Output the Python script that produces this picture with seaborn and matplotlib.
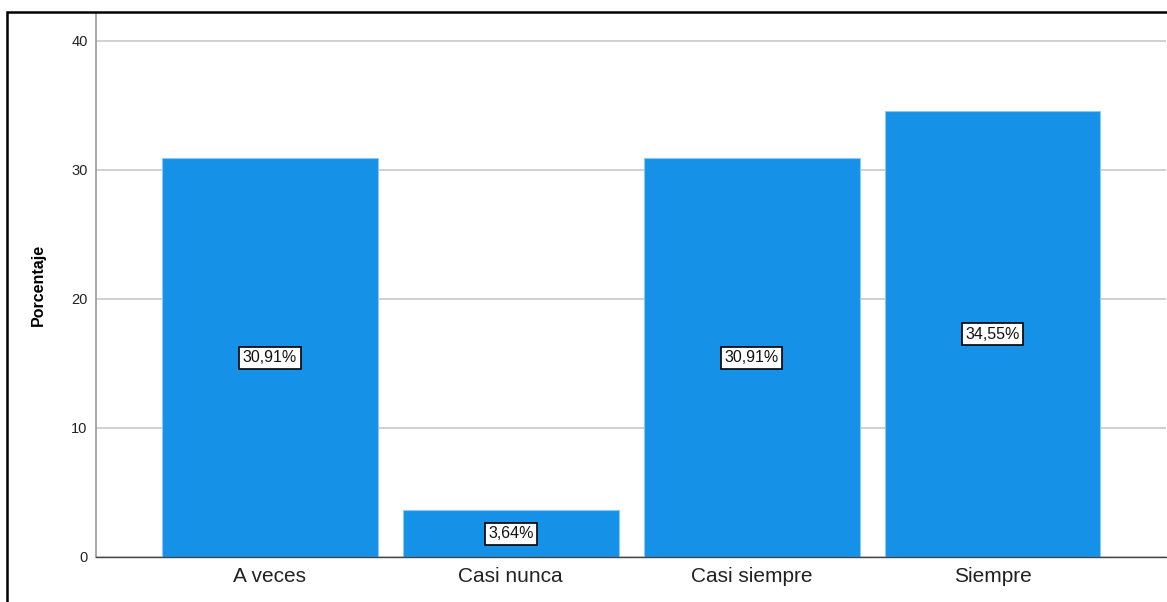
import matplotlib.pyplot as plt
import pandas as pd
import seaborn as sns
from matplotlib.patches import Rectangle

categorias = ["A veces", "Casi nunca", "Casi siempre", "Siempre"]
porcentajes = [30.91, 3.64, 30.91, 34.55]
etiquetas = ["30,91%", "3,64%", "30,91%", "34,55%"]

df = pd.DataFrame({"categoria": categorias, "porcentaje": porcentajes})

sns.set_theme(style="white")
plt.rcParams["font.family"] = ["Liberation Sans", "DejaVu Sans"]

fig = plt.figure(figsize=(11.67, 6.02), dpi=100)
ax = fig.add_axes([96 / 1167, 45 / 602, 1070 / 1167, 544 / 602])

sns.barplot(data=df, x="categoria", y="porcentaje", color="#1591E8",
            saturation=1, width=0.896, edgecolor="#8cc8f2", linewidth=0.8, ax=ax)

ax.set_xlim(-0.722, 3.72)
ax.set_ylim(0, 42.17)
ax.set_yticks([0, 10, 20, 30, 40])
ax.yaxis.grid(True, color="#c8c8c8", linewidth=1.2)
ax.set_axisbelow(True)
ax.tick_params(axis="y", labelsize=10.5, length=0, pad=6, colors="#222222")
ax.tick_params(axis="x", labelsize=15, length=0, pad=7, colors="#222222")
ax.set_xlabel("")
ax.set_ylabel("Porcentaje", fontsize=11.5, fontweight="bold", color="black")
ax.yaxis.set_label_coords(-50 / 1070, 0.5)

for s in ["top", "right"]:
    ax.spines[s].set_visible(False)
ax.spines["left"].set_color("#9a9a9a")
ax.spines["bottom"].set_color("#444444")
ax.spines["left"].set_linewidth(1.2)
ax.spines["bottom"].set_linewidth(1.0)

# etiquetas de valor en el centro de cada barra
for i, (v, t) in enumerate(zip(porcentajes, etiquetas)):
    ax.text(i, v / 2, t, ha="center", va="center", fontsize=11.5, color="#111111",
            bbox=dict(boxstyle="square,pad=0.22", facecolor="white",
                      edgecolor="black", linewidth=1.2))

# marco exterior
fig.patches.append(Rectangle((6.5 / 1167, -0.05), 1.2, (602 - 11.5) / 602 + 0.05,
                             transform=fig.transFigure, fill=False,
                             edgecolor="black", linewidth=1.8))

fig.savefig("out.png", dpi=100)
